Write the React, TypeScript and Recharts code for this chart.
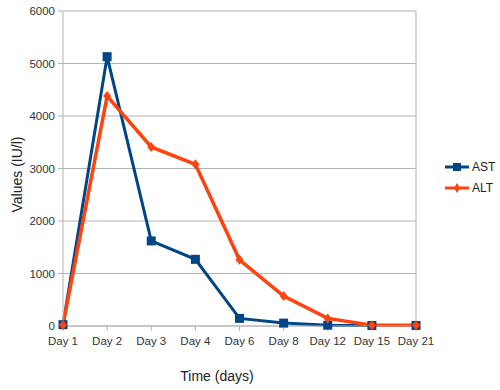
import React from 'react';
import { LineChart, Line, XAxis, YAxis, CartesianGrid, ReferenceLine } from 'recharts';

const days = ['Day 1', 'Day 2', 'Day 3', 'Day 4', 'Day 6', 'Day 8', 'Day 12', 'Day 15', 'Day 21'];
const astValues = [25, 5130, 1620, 1270, 145, 55, 15, 10, 10];
const altValues = [20, 4380, 3410, 3080, 1260, 570, 145, 15, 15];
const yTicks = [0, 1000, 2000, 3000, 4000, 5000, 6000];
const seriesNames = ['AST', 'ALT'];

const data = days.map((d, i) => ({ day: d, AST: astValues[i], ALT: altValues[i] }));

const FONT = '"Liberation Sans", Arial, sans-serif';
const AST_COLOR = '#004586';
const ALT_COLOR = '#ff420e';
const GRID = '#b3b3b3';

const SquareDot = (props: any) => {
  const { cx, cy } = props;
  if (cx == null || cy == null) return null;
  return <rect x={cx - 4.5} y={cy - 4.5} width={9} height={9} fill={AST_COLOR} />;
};

const DiamondDot = (props: any) => {
  const { cx, cy } = props;
  if (cx == null || cy == null) return null;
  return (
    <path
      d={`M${cx},${cy - 5} L${cx + 4},${cy} L${cx},${cy + 5} L${cx - 4},${cy} Z`}
      fill={ALT_COLOR}
    />
  );
};

const LegendBox = () => (
  <div
    style={{
      position: 'absolute',
      left: 445,
      top: 156,
      fontFamily: FONT,
      fontSize: 12,
      color: '#222',
    }}
  >
    <div style={{ display: 'flex', alignItems: 'center', height: 21 }}>
      <svg width={25} height={10} style={{ marginRight: 2 }}>
        <line x1={0} y1={5} x2={24} y2={5} stroke={AST_COLOR} strokeWidth={3} />
        <rect x={8} y={1} width={8} height={8} fill={AST_COLOR} />
      </svg>
      <span>{seriesNames[0]}</span>
    </div>
    <div style={{ display: 'flex', alignItems: 'center', height: 21 }}>
      <svg width={25} height={10} style={{ marginRight: 2 }}>
        <line x1={0} y1={5} x2={24} y2={5} stroke={ALT_COLOR} strokeWidth={3} />
        <path d="M12,0 L15,5 L12,10 L9,5 Z" fill={ALT_COLOR} />
      </svg>
      <span>{seriesNames[1]}</span>
    </div>
  </div>
);

export default function App() {
  return (
    <div style={{ position: 'absolute', left: 0, top: 0, width: 500, height: 390, background: '#fff' }}>
      <LineChart
        width={500}
        height={390}
        data={data}
        margin={{ top: 11, right: 84, bottom: 0, left: 0 }}
        style={{ fontFamily: FONT }}
      >
        <CartesianGrid horizontal vertical={false} stroke={GRID} strokeWidth={1} />
        <XAxis
          dataKey="day"
          height={64}
          tickSize={5}
          tickMargin={6}
          axisLine={{ stroke: GRID }}
          tickLine={{ stroke: GRID }}
          tick={{ fill: '#333', fontSize: 11.5, fontFamily: FONT }}
          interval={0}
          label={{
            content: (p: any) => {
              const vb = p.viewBox || { x: 63, y: 326, width: 353, height: 64 };
              return (
                <text
                  x={vb.x + 154}
                  y={vb.y + 55}
                  textAnchor="middle"
                  fontSize={14}
                  fontFamily={FONT}
                  fill="#222"
                >
                  Time (days)
                </text>
              );
            },
          }}
        />
        <YAxis
          width={63}
          domain={[0, 6000]}
          ticks={yTicks}
          tickSize={5}
          tickMargin={3}
          axisLine={{ stroke: GRID }}
          tickLine={{ stroke: GRID }}
          tick={{ fill: '#333', fontSize: 11.5, fontFamily: FONT }}
          label={{
            content: (p: any) => {
              const vb = p.viewBox || { x: 0, y: 11, width: 63, height: 315 };
              const x = vb.x + 22;
              const y = vb.y + vb.height / 2 + 6;
              return (
                <text
                  x={x}
                  y={y}
                  transform={`rotate(-90 ${x} ${y})`}
                  textAnchor="middle"
                  fontSize={14}
                  fontFamily={FONT}
                  fill="#222"
                >
                  Values (IU/l)
                </text>
              );
            },
          }}
        />
        <ReferenceLine x="Day 21" stroke={GRID} />
        <Line
          type="linear"
          dataKey="AST"
          stroke={AST_COLOR}
          strokeWidth={3}
          dot={<SquareDot />}
          activeDot={false}
          isAnimationActive={false}
        />
        <Line
          type="linear"
          dataKey="ALT"
          stroke={ALT_COLOR}
          strokeWidth={3.5}
          dot={<DiamondDot />}
          activeDot={false}
          isAnimationActive={false}
        />
      </LineChart>
      <LegendBox />
    </div>
  );
}
